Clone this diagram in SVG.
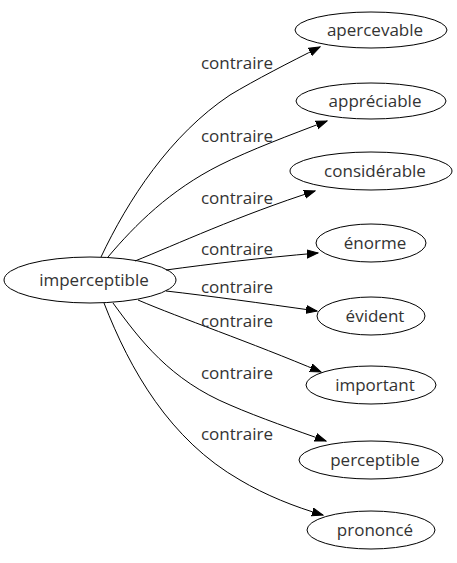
<svg xmlns="http://www.w3.org/2000/svg" width="457" height="563" viewBox="0 0 457 563">
<defs>
<style>
.n ellipse{fill:none;stroke:#000;stroke-width:1}
text{font-family:"Open Sans","Noto Sans",sans-serif;font-size:17px;fill:#333;text-anchor:middle}
.e path{fill:none;stroke:#000;stroke-width:1;marker-end:url(#ah)}
</style>
<marker id="ah" markerUnits="userSpaceOnUse" markerWidth="12" markerHeight="10" refX="11" refY="4" orient="auto" viewBox="0 0 12 8">
<path d="M0,0 L11,4 L0,8 Z" fill="#000" stroke="#000"/>
</marker>
</defs>
<rect width="457" height="563" fill="#fff"/>
<g class="e" id="edges">
<path d="M101,257 C128,200 170,135 230,95 C255,80 290,62 320,47"/>
<text x="237" y="69">contraire</text>
<path d="M108,257 C135,225 170,190 220,165 C250,150 290,135 327,121"/>
<text x="237" y="142">contraire</text>
<path d="M135,261 C175,245 240,215 315,191"/>
<text x="237" y="204">contraire</text>
<path d="M166,270 C210,264 260,258 318,253"/>
<text x="237" y="255">contraire</text>
<path d="M166,291 C210,296 260,303 317,311"/>
<text x="237" y="293">contraire</text>
<path d="M138,300 C180,318 250,342 321,372"/>
<text x="237" y="327">contraire</text>
<path d="M113,303 C140,340 170,380 230,405 C260,418 295,430 326,441"/>
<text x="237" y="379">contraire</text>
<path d="M104,303 C130,370 170,440 240,480 C265,495 295,507 323,515"/>
<text x="237" y="440">contraire</text>
</g>
<g class="n" id="imperceptible"><ellipse cx="90" cy="280" rx="86" ry="23"/><text x="94" y="286">imperceptible</text></g>
<g class="n" id="apercevable"><ellipse cx="371" cy="30" rx="76" ry="18"/><text x="375" y="36">apercevable</text></g>
<g class="n" id="appreciable"><ellipse cx="371" cy="101" rx="75" ry="18"/><text x="375" y="107">appréciable</text></g>
<g class="n" id="considerable"><ellipse cx="371" cy="171" rx="81" ry="19"/><text x="375" y="177">considérable</text></g>
<g class="n" id="enorme"><ellipse cx="371" cy="243" rx="55" ry="19"/><text x="375" y="249">énorme</text></g>
<g class="n" id="evident"><ellipse cx="371" cy="316" rx="54" ry="19"/><text x="375" y="322">évident</text></g>
<g class="n" id="important"><ellipse cx="371" cy="385" rx="65" ry="19"/><text x="375" y="391">important</text></g>
<g class="n" id="perceptible"><ellipse cx="371" cy="460" rx="72" ry="19"/><text x="375" y="466">perceptible</text></g>
<g class="n" id="prononce"><ellipse cx="371" cy="530" rx="64" ry="19"/><text x="375" y="536">prononcé</text></g>
</svg>
